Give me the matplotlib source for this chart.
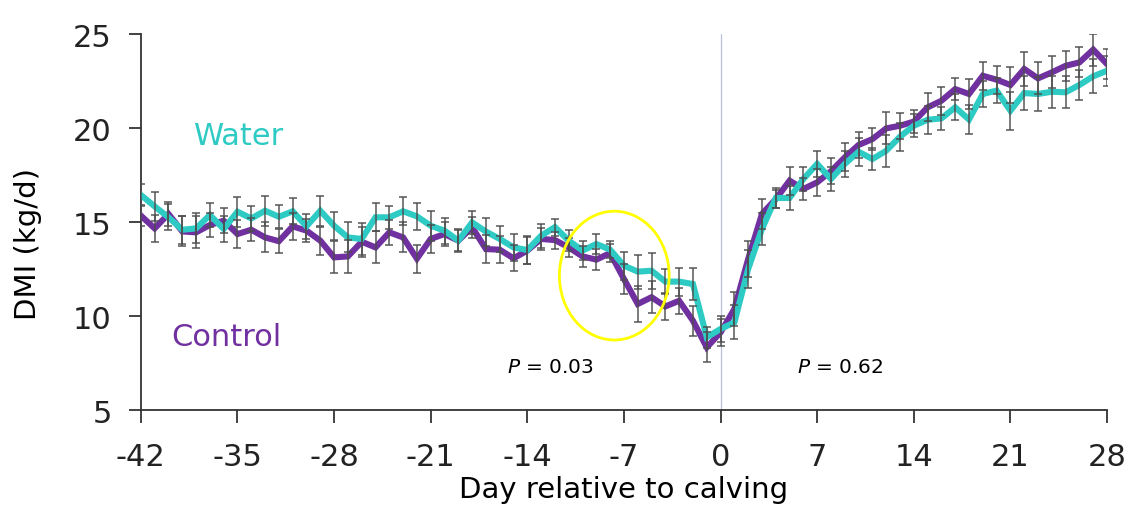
import matplotlib
matplotlib.use("Agg")
import matplotlib.pyplot as plt
from matplotlib.patches import Ellipse

days = list(range(-42, 29))

water = [16.44, 15.83, 15.25, 14.59, 14.66, 15.37, 14.63, 15.55, 15.19, 15.60,
         15.28, 15.57, 14.77, 15.60, 14.80, 14.18, 14.10, 15.25, 15.25, 15.57,
         15.30, 14.80, 14.54, 14.01, 14.98, 14.49, 14.10, 13.65, 13.51, 14.27,
         14.73, 14.01, 13.48, 13.83, 13.53, 12.68, 12.36, 12.41, 11.83, 11.83,
         11.70, 8.87, 9.31, 9.66, 12.50, 14.63, 16.28, 16.28, 17.29, 18.09,
         17.29, 18.09, 18.74, 18.35, 18.79, 19.54, 20.12, 20.44, 20.51, 21.10,
         20.45, 21.81, 21.99, 20.92, 21.86, 21.81, 21.93, 21.90, 22.29, 22.75,
         23.05]

control = [15.34, 14.66, 15.43, 14.50, 14.45, 14.84, 15.07, 14.36, 14.59, 14.18,
           13.98, 14.77, 14.54, 14.01, 13.12, 13.17, 13.95, 13.65, 14.45, 14.18,
           13.05, 14.10, 14.36, 14.01, 14.72, 13.56, 13.53, 13.07, 13.48, 14.10,
           14.04, 13.65, 13.17, 13.00, 13.35, 11.97, 10.64, 11.00, 10.51, 10.81,
           9.75, 8.33, 9.13, 10.37, 13.03, 15.43, 16.22, 17.20, 16.76, 17.11,
           17.70, 18.44, 19.10, 19.41, 19.98, 20.12, 20.34, 21.10, 21.45, 22.07,
           21.81, 22.78, 22.57, 22.29, 23.14, 22.64, 22.96, 23.31, 23.49, 24.17,
           23.40]

water_sem = [0.60, 0.75, 0.70, 0.75, 0.80, 0.65, 0.70, 0.80, 0.65, 0.80,
             0.60, 0.70, 0.65, 0.80, 0.75, 0.80, 0.85, 0.75, 0.60, 0.75,
             0.70, 0.80, 0.70, 0.60, 0.60, 0.75, 0.70, 0.70, 0.75, 0.65,
             0.45, 0.55, 0.50, 0.55, 0.45, 0.75, 0.90, 0.95, 0.65, 0.75,
             0.85, 0.55, 0.70, 0.90, 1.00, 0.85, 0.55, 0.65, 0.65, 0.70,
             0.65, 0.70, 0.75, 0.60, 0.85, 0.75, 0.60, 0.75, 0.60, 0.70,
             0.75, 0.70, 0.65, 1.00, 0.90, 0.90, 0.85, 0.85, 0.80, 0.90,
             0.80]

control_sem = [0.55, 0.70, 0.65, 0.80, 0.85, 0.65, 0.65, 0.75, 0.60, 0.80,
               0.65, 0.70, 0.60, 0.75, 0.85, 0.90, 0.80, 0.85, 0.65, 0.80,
               0.75, 0.75, 0.65, 0.55, 0.55, 0.75, 0.70, 0.70, 0.70, 0.60,
               0.45, 0.50, 0.55, 0.55, 0.50, 0.80, 0.95, 0.85, 0.70, 0.70,
               0.80, 0.80, 0.70, 0.90, 0.95, 0.80, 0.50, 0.75, 0.60, 0.70,
               0.70, 0.75, 0.70, 0.60, 0.85, 0.70, 0.60, 0.75, 0.75, 0.60,
               0.80, 0.75, 0.75, 0.95, 0.90, 0.85, 0.85, 0.80, 0.80, 0.85,
               0.80]

xticks = [-42, -35, -28, -21, -14, -7, 0, 7, 14, 21, 28]
yticks = [5, 10, 15, 20, 25]

WATER_C = "#2ECAC4"
CONTROL_C = "#7030A0"

plt.rcParams["font.family"] = ["DejaVu Sans"]

fig = plt.figure(figsize=(11.36, 5.06), dpi=100)
ax = fig.add_axes([0.124, 0.1877, 0.8505, 0.7431])

ax.axvline(0, color="#b8c2e0", lw=0.9, zorder=1)

ax.plot(days, control, color=CONTROL_C, lw=4.4, zorder=3, solid_joinstyle="miter")
ax.plot(days, water, color=WATER_C, lw=4.4, zorder=4, solid_joinstyle="miter")
ax.errorbar(days, control, yerr=control_sem, fmt="none", ecolor="#4d4d4d",
            elinewidth=1.3, capsize=3, capthick=1.3, alpha=0.8, zorder=5)
ax.errorbar(days, water, yerr=water_sem, fmt="none", ecolor="#4d4d4d",
            elinewidth=1.3, capsize=3, capthick=1.3, alpha=0.8, zorder=5)

ax.add_patch(Ellipse((-7.7, 12.15), 7.95, 6.85, fill=False,
                     edgecolor="#FFFF00", lw=2.0, zorder=6))

ax.set_xlim(-42, 28)
ax.set_ylim(5, 25)
ax.set_xticks(xticks)
ax.set_yticks(yticks)
ax.set_xticklabels([str(t) for t in xticks], fontsize=22)
ax.set_yticklabels([str(t) for t in yticks], fontsize=22)
ax.tick_params(axis="both", direction="out", length=9, width=1.2, colors="#222222")
ax.tick_params(axis="x", pad=14)
ax.tick_params(axis="y", pad=12)
for s in ["top", "right"]:
    ax.spines[s].set_visible(False)
for s in ["left", "bottom"]:
    ax.spines[s].set_linewidth(1.3)
    ax.spines[s].set_color("#333333")

ax.set_xlabel("Day relative to calving", fontsize=21)
ax.xaxis.set_label_coords(0.5, -0.172)
ax.set_ylabel("DMI (kg/d)", fontsize=21)
ax.yaxis.set_label_coords(-0.1025, 0.444)

ax.text(-34.9, 19.6, "Water", color=WATER_C, fontsize=22, ha="center", va="center")
ax.text(-35.8, 8.9, "Control", color=CONTROL_C, fontsize=22, ha="center", va="center")
ax.text(-12.3, 7.3, r"$P$ = 0.03", fontsize=14.5, ha="center", va="center")
ax.text(8.7, 7.3, r"$P$ = 0.62", fontsize=14.5, ha="center", va="center")

fig.savefig("out.png", dpi=100)
